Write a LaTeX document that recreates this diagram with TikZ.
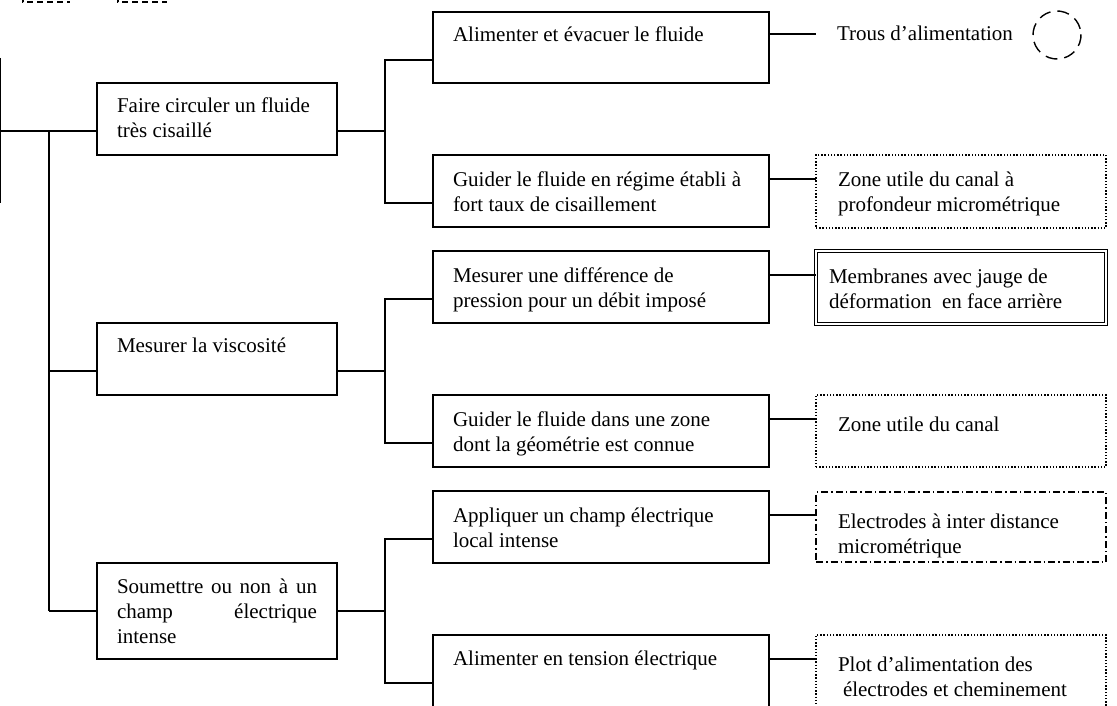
\documentclass[tikz,border=0pt]{standalone}
\usepackage{fontspec}
\setmainfont{Liberation Serif}
\usetikzlibrary{calc}
\begin{document}
\begin{tikzpicture}[x=1pt,y=-1pt,line width=1.3pt,
  box/.style={draw,rectangle,anchor=north west,inner sep=0pt,outer sep=0pt,line width=1.3pt},
  lbox/.style={box,minimum width=240pt,minimum height=72pt},
  mbox/.style={box,minimum width=336pt,minimum height=72pt},
  rbox/.style={box,minimum width=290pt,minimum height=72pt},
  dotbox/.style={rbox,line width=1.4pt,dash pattern=on 1.4pt off 1.8pt},
  dashdotbox/.style={rbox,dash pattern=on 7pt off 3pt on 1.5pt off 3pt},
  dblbox/.style={rbox,line width=0.9pt,double,double distance=1.8pt},
  txt/.style={anchor=base west,inner sep=0pt,outer sep=0pt,font=\fontsize{21}{25}\selectfont},
  link/.style={line width=1.3pt},
  topmark/.style={line width=1.3pt,dash pattern=on 6pt off 4pt}]
\useasboundingbox (0,0) rectangle (1117,706);
\clip (0,0) rectangle (1117,706);
% top cut-off marks
\draw[topmark] (23,-4) -- (23,2) -- (70,2);
\draw[topmark] (118,-4) -- (118,2) -- (167,2);
% left boxes
\node[lbox] (f1) at (97,83) {};
\node[lbox] (f2) at (97,323) {};
\node[lbox,minimum height=96pt] (f3) at (97,563) {};
% middle boxes
\node[mbox,minimum height=71pt] (m1) at (433,12) {};
\node[mbox] (m2) at (433,155) {};
\node[mbox] (m3) at (433,251) {};
\node[mbox] (m4) at (433,395) {};
\node[mbox] (m5) at (433,491) {};
\node[mbox] (m6) at (433,635) {};
% right boxes
\node[draw,circle,minimum size=48pt,inner sep=0pt,line width=1.4pt,dash pattern=on 12pt off 7pt,rotate=15] (r1) at (1057,35) {};
\node[dotbox,minimum height=73pt] (r2) at (816,155) {};
\node[dblbox,minimum height=73pt] (r3) at (816,251) {};
\node[dotbox] (r4) at (816,395) {};
\node[dashdotbox,minimum height=70pt] (r5) at (816,492) {};
\node[dotbox] (r6) at (816,635) {};
% texts
\node[txt] (tf1) at (117,113) {\parbox[t]{220pt}{\raggedright Faire circuler un fluide\\très cisaillé}};
\node[txt] (tf2) at (117,352) {Mesurer la viscosité};
\node[txt] (tf3) at (117,593) {\parbox[t]{200pt}{\hbox to 200pt{Soumettre ou non à un}\hbox to 200pt{champ\hfill électrique}\hbox{intense}}};
\node[txt] (tm1) at (453,42) {Alimenter et évacuer le fluide};
\node[txt] (tm2) at (453,186) {\parbox[t]{310pt}{\raggedright Guider le fluide en régime établi à\\fort taux de cisaillement}};
\node[txt] (tm3) at (453,282) {\parbox[t]{310pt}{\raggedright Mesurer une différence de\\pression pour un débit imposé}};
\node[txt] (tm4) at (453,426) {\parbox[t]{310pt}{\raggedright Guider le fluide dans une zone\\dont la géométrie est connue}};
\node[txt] (tm5) at (453,522) {\parbox[t]{310pt}{\raggedright Appliquer un champ électrique\\local intense}};
\node[txt] (tm6) at (453,665) {Alimenter en tension électrique};
\node[txt] (tr1) at (837,41) {Trous d’alimentation};
\node[txt] (tr2) at (838,186) {\parbox[t]{270pt}{\raggedright Zone utile du canal à\\profondeur micrométrique}};
\node[txt] (tr3) at (829,283) {\parbox[t]{275pt}{\raggedright Membranes avec jauge de\\déformation\ \ en face arrière}};
\node[txt] (tr4) at (838,431) {Zone utile du canal};
\node[txt] (tr5) at (838,528) {\parbox[t]{265pt}{\raggedright Electrodes à inter distance\\micrométrique}};
\node[txt] (tr6) at (838,671) {\parbox[t]{265pt}{\raggedright Plot d’alimentation des\\\hspace*{5pt}électrodes et cheminement}};
% ports
\coordinate (rootT) at (0.7,58);
\coordinate (rootB) at (0.7,203);
\coordinate (spine) at (49,0);
\coordinate (bus) at (385,0);
\foreach \n in {f1,f2,f3,m1,m2,m3,m4,m5,m6}{
  \coordinate (\n in) at ($(\n.north west)+(0,48)$);
}
\foreach \n in {f1,f2,f3}{
  \coordinate (\n out) at ($(\n.north east)+(0,48)$);
}
\coordinate (m1out) at ($(m1.north east)+(0,22)$);
\coordinate (t1end) at (816,34);
\foreach \n in {m2,m3,m4,m5,m6}{
  \coordinate (\n out) at ($(\n.north east)+(0,24)$);
}
% root and spine
\draw[link] (rootT) -- (rootB);
\draw[link] (rootT |- f1in) -- (f1in);
\draw[link] (spine |- f1in) -- (spine |- f3in);
\draw[link] (spine |- f2in) -- (f2in);
\draw[link] (spine |- f3in) -- (f3in);
% buses
\draw[link] (f1out) -- (bus |- f1out);
\draw[link] (m1in) -| (bus |- m2in) -- (m2in);
\draw[link] (f2out) -- (bus |- f2out);
\draw[link] (m3in) -| (bus |- m4in) -- (m4in);
\draw[link] (f3out) -- (bus |- f3out);
\draw[link] (m5in) -| (bus |- m6in) -- (m6in);
% right links
\draw[link] (m1out) -- (t1end);
\draw[link] (m2out) -- (m2out -| r2.west);
\draw[link] (m3out) -- (m3out -| r3.west);
\draw[link] (m4out) -- (m4out -| r4.west);
\draw[link] (m5out) -- (m5out -| r5.west);
\draw[link] (m6out) -- (m6out -| r6.west);
\end{tikzpicture}
\end{document}
